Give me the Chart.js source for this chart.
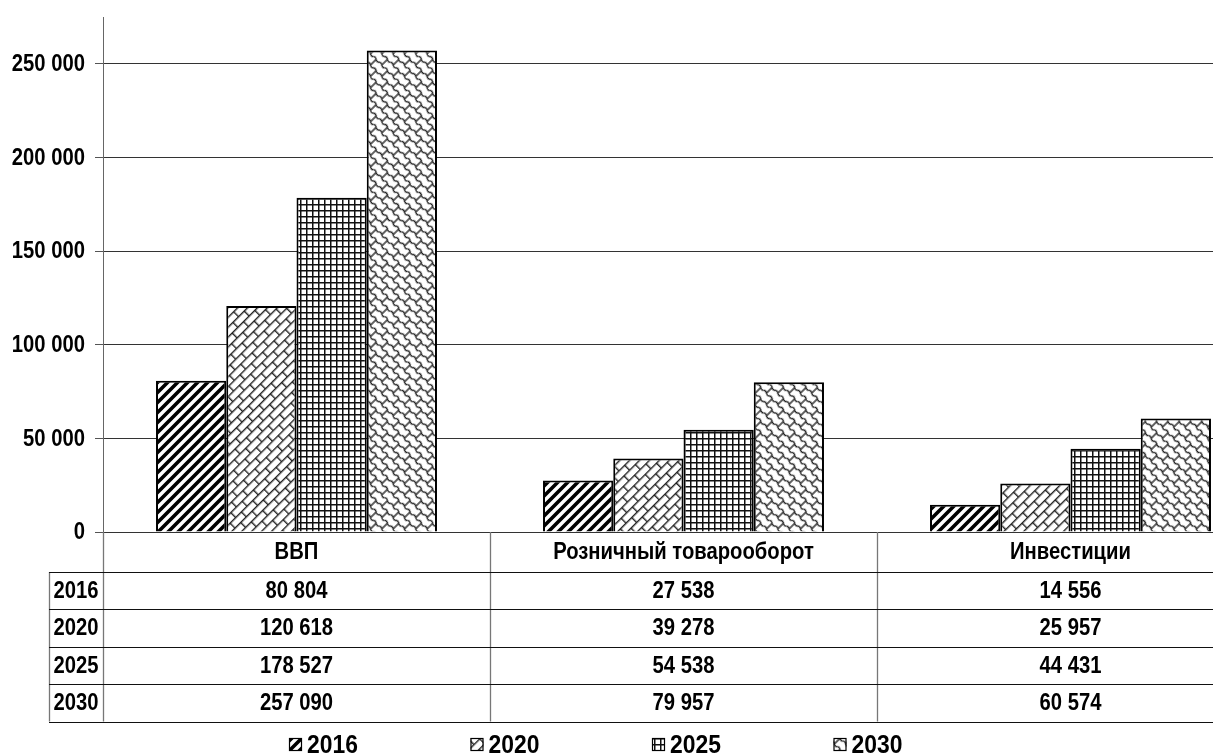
<!DOCTYPE html>
<html lang="ru">
<head>
<meta charset="utf-8">
<title>ВВП, розничный товарооборот и инвестиции</title>
<script src="https://cdn.jsdelivr.net/npm/chart.js@4.4.1/dist/chart.umd.min.js"></script>
<style>
  html, body { margin: 0; padding: 0; background: #fff; overflow: hidden; }
  #wrap { width: 1266px; height: 756px; }
</style>
</head>
<body>
<div id="wrap"><canvas id="c" width="1266" height="756"></canvas></div>
<script>
// Categories, years and values
const categories = ['ВВП', 'Розничный товарооборот', 'Инвестиции'];
const years = ['2016', '2020', '2025', '2030'];
const v2016 = [80804, 27538, 14556];
const v2020 = [120618, 39278, 25957];
const v2025 = [178527, 54538, 44431];
const v2030 = [257090, 79957, 60574];
const yTicks = [0, 50000, 100000, 150000, 200000, 250000];

const FONT = "'Liberation Sans', Arial, sans-serif";
const NARROW = 0.88; // horizontal squeeze for a narrow bold face

function fmt(n) {
  return String(n).replace(/\B(?=(\d{3})+(?!\d))/g, ' ');
}

// bold text squeezed horizontally
function narrowText(ctx, text, x, y, size, align) {
  ctx.save();
  ctx.font = 'bold ' + size + 'px ' + FONT;
  ctx.textAlign = align;
  ctx.textBaseline = 'middle';
  ctx.fillStyle = '#000';
  ctx.translate(x, y);
  ctx.scale(NARROW, 1);
  ctx.fillText(text, 0, 0);
  ctx.restore();
}

// ---- hatch fills ----
function tile(w, h, draw) {
  const c = document.createElement('canvas');
  c.width = w; c.height = h;
  const g = c.getContext('2d');
  g.fillStyle = '#fff';
  g.fillRect(0, 0, w, h);
  draw(g, w, h);
  return c;
}
const ctx0 = document.getElementById('c').getContext('2d');

function patternFrom(canvas, matrix) {
  const p = ctx0.createPattern(canvas, 'repeat');
  if (matrix && p.setTransform) p.setTransform(matrix);
  return p;
}

// wide "/" stripes
const pStripes = patternFrom(tile(10, 10, (g) => {
  g.strokeStyle = '#000';
  g.lineWidth = 3.6;
  g.beginPath();
  g.moveTo(-5, 5); g.lineTo(5, -5);
  g.moveTo(0, 10); g.lineTo(10, 0);
  g.moveTo(5, 15); g.lineTo(15, 5);
  g.stroke();
}));

// diagonal brick
const pBrick = patternFrom(tile(16, 14, (g) => {
  g.fillStyle = '#222';
  g.fillRect(0, 0, 16, 1.4);
  g.fillRect(0, 7, 16, 1.4);
  g.fillRect(0, 0, 1.4, 7);
  g.fillRect(8, 7, 1.4, 7);
}), new DOMMatrix().rotate(-45));

// square grid
const pGrid = patternFrom(tile(6, 6, (g) => {
  g.fillStyle = '#111';
  g.fillRect(0, 0, 6, 1.5);
  g.fillRect(0, 0, 1.5, 6);
}));

// wavy shingles
const pShingle = patternFrom(tile(16, 16, (g) => {
  g.strokeStyle = '#222';
  g.lineWidth = 1.4;
  g.beginPath();
  for (const y0 of [0, 8, 16]) {
    g.moveTo(0, y0);
    g.bezierCurveTo(3, y0 - 3, 5, y0 + 3, 8, y0);
    g.bezierCurveTo(11, y0 - 3, 13, y0 + 3, 16, y0);
  }
  g.moveTo(4, 0); g.lineTo(4, 8);
  g.moveTo(12, 8); g.lineTo(12, 16);
  g.stroke();
}), new DOMMatrix().rotate(45));

const fills = [pStripes, pBrick, pGrid, pShingle];
const series = [v2016, v2020, v2025, v2030];

// ---- y labels, data table under the plot, legend ----
const tablePlugin = {
  id: 'dataTable',
  afterDraw(chart) {
    const { ctx, chartArea } = chart;
    const xs = chart.scales.x;
    const ys = chart.scales.y;

    // value axis labels
    ys.ticks.forEach((t) => {
      narrowText(ctx, fmt(t.value), 85, ys.getPixelForValue(t.value) + 1, 23, 'right');
    });

    const top = chartArea.bottom;
    const headerH = 40;
    const rowH = 37.4;
    const leftEdge = 49;
    const half = (xs.getPixelForValue(1) - xs.getPixelForValue(0)) / 2;
    const colStart = xs.getPixelForValue(0) - half;
    const tableBottom = top + headerH + rowH * years.length;

    ctx.save();
    // vertical separators
    ctx.strokeStyle = '#777';
    ctx.lineWidth = 1.3;
    ctx.beginPath();
    for (let i = 0; i <= categories.length; i++) {
      const x = Math.round(colStart + 2 * half * i) + 0.5;
      ctx.moveTo(x, top); ctx.lineTo(x, tableBottom);
    }
    ctx.moveTo(leftEdge + 0.5, top + headerH); ctx.lineTo(leftEdge + 0.5, tableBottom);
    ctx.stroke();

    // horizontal row lines
    ctx.strokeStyle = '#111';
    ctx.lineWidth = 1.2;
    ctx.beginPath();
    for (let r = 0; r <= years.length; r++) {
      const y = Math.round(top + headerH + rowH * r) + 0.5;
      ctx.moveTo(leftEdge, y); ctx.lineTo(chart.width, y);
    }
    ctx.stroke();
    ctx.restore();

    categories.forEach((c, i) => {
      narrowText(ctx, c, xs.getPixelForValue(i), top + headerH / 2 + 1, 23, 'center');
    });
    years.forEach((yr, r) => {
      const cy = top + headerH + rowH * r + rowH / 2 + 1;
      narrowText(ctx, yr, (leftEdge + colStart) / 2, cy, 23, 'center');
      series[r].forEach((v, i) => {
        narrowText(ctx, fmt(v), xs.getPixelForValue(i), cy, 23, 'center');
      });
    });

    // legend row
    const ly = 745;
    const lx0 = 289;
    const step = 181.5;
    years.forEach((yr, i) => {
      const x = lx0 + step * i;
      ctx.save();
      ctx.fillStyle = fills[i];
      ctx.fillRect(x, ly - 7, 13, 13);
      ctx.strokeStyle = '#000';
      ctx.lineWidth = 1.2;
      ctx.strokeRect(x + 0.5, ly - 6.5, 12, 12);
      ctx.restore();
      narrowText(ctx, yr, x + 18, ly + 1, 26, 'left');
    });
  }
};

new Chart(document.getElementById('c'), {
  type: 'bar',
  data: {
    labels: categories,
    datasets: years.map((yr, i) => ({
      label: yr,
      data: series[i],
      backgroundColor: fills[i],
      borderColor: '#000',
      borderWidth: 2,
      categoryPercentage: 0.726,
      barPercentage: 1.0
    }))
  },
  options: {
    responsive: false,
    animation: false,
    layout: { padding: { top: 17, bottom: 224, left: 0, right: 2 } },
    plugins: { legend: { display: false }, tooltip: { enabled: false } },
    scales: {
      x: { display: false },
      y: {
        min: 0,
        max: 275000,
        afterFit(scale) { scale.width = 103; },
        afterBuildTicks(scale) { scale.ticks = yTicks.map(v => ({ value: v })); },
        ticks: { display: false, includeBounds: false },
        grid: { color: '#333', lineWidth: 1, tickLength: 8, tickColor: '#555' },
        border: { display: true, color: '#666', width: 1 }
      }
    }
  },
  plugins: [tablePlugin]
});
</script>
</body>
</html>
